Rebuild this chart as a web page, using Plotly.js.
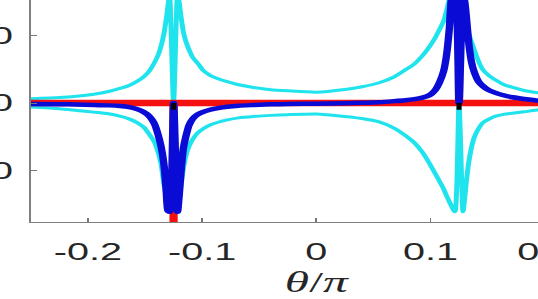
<!DOCTYPE html>
<html>
<head>
<meta charset="utf-8">
<script src="https://cdn.plot.ly/plotly-3.0.1.min.js"></script>
<style>
  html, body { margin: 0; padding: 0; background: #fff; overflow: hidden; width: 538px; height: 299px; }
  /* the reference figure is stretched sideways, so the graph is drawn narrow and widened */
  #graph { position: absolute; left: -50px; top: -40px; transform: scaleX(1.65); transform-origin: 0 0; }
</style>
</head>
<body>
<div id="graph"></div>
<script>
// theta / pi sample points, dense around the two resonances at +-0.125
let theta = [
    -0.25, -0.225, -0.21, -0.195, -0.182, -0.172, -0.164, -0.157, -0.151, -0.146, -0.142, -0.1385, -0.136, -0.1335, -0.1315, -0.13, -0.1285,
    -0.125,
    -0.1215, -0.12, -0.1185, -0.1165, -0.114, -0.1115, -0.108, -0.104, -0.099, -0.093, -0.086, -0.078, -0.068, -0.055, -0.04, -0.025, 0,
    0.025, 0.04, 0.055, 0.068, 0.078, 0.086, 0.093, 0.099, 0.104, 0.108, 0.1115, 0.114, 0.1165, 0.1185, 0.12, 0.1215,
    0.125,
    0.1285, 0.13, 0.1315, 0.1335, 0.136, 0.1385, 0.142, 0.146, 0.151, 0.157, 0.164, 0.172, 0.182, 0.195, 0.21, 0.225, 0.25];

let cyan_up = [
    0.64, 0.8, 1.0, 1.3, 1.7, 2.15, 2.6, 3.2, 3.9, 4.8, 5.9, 7.1, 8.4, 10.2, 12.3, 14.2, 16.1,
    0,
    16.1, 14.8, 12.8, 10.6, 9.0, 7.9, 6.7, 5.9, 4.8, 4.1, 3.6, 3.15, 2.7, 2.3, 1.97, 1.8, 1.6,
    2.0, 2.4, 3.0, 3.85, 4.9, 5.8, 7.0, 8.3, 9.6, 10.9, 12.1, 13.6, 15.3, 15.8, 16.0, 16.1,
    0,
    16.1, 14.0, 12.0, 10.3, 9.0, 7.8, 6.2, 4.9, 4.1, 3.4, 2.75, 2.3, 1.85, 1.5, 1.2, 1.0, 0.85];

let cyan_low = [
    -0.6, -0.85, -1.1, -1.35, -1.6, -1.95, -2.35, -2.9, -3.6, -4.7, -5.7, -7.3, -9.0, -12.0, -13.8, -15.0, -16.1,
    0,
    -16.1, -14.2, -12.2, -9.8, -7.7, -6.4, -5.3, -4.44, -3.8, -3.25, -2.85, -2.5, -2.2, -2.0, -1.83, -1.72, -1.63,
    -2.0, -2.3, -2.8, -3.7, -4.8, -5.9, -7.3, -8.9, -10.4, -11.6, -12.7, -13.7, -14.6, -15.3, -15.8, -16.1,
    0,
    -16.1, -14.0, -11.5, -8.8, -6.5, -5.0, -3.8, -2.9, -2.4, -1.95, -1.68, -1.5, -1.3, -1.0, -0.85, -0.72, -0.6];

let blue_val = [
    -0.15, -0.18, -0.22, -0.28, -0.35, -0.45, -0.6, -0.9, -1.35, -2.0, -3.0, -4.7, -6.4, -9.0, -12.8, -15.9, -16.1,
    0,
    -16.1, -13.5, -10.2, -6.8, -4.8, -3.3, -2.3, -1.7, -1.3, -1.0, -0.75, -0.55, -0.4, -0.3, -0.2, -0.15, -0.1,
    -0.05, 0.02, 0.12, 0.28, 0.42, 0.58, 0.8, 1.15, 1.9, 3.1, 4.7, 7.0, 11.0, 15.6, 16.0, 16.1,
    0,
    16.1, 15.0, 12.6, 8.9, 6.0, 4.5, 3.2, 2.5, 1.9, 1.5, 1.15, 0.85, 0.6, 0.35, 0.25, 0.18, 0.12];

// red: flat zero line plus a spike at each resonance
let red_theta = [-0.25, 0.25];
let red_val = [0, 0];
let spike_theta = [-0.125, -0.125, null, 0.125, 0.125];
let spike_val = [0, -60, null, 0, 60];

// short black marks at the resonances
let black_theta = [-0.125, -0.125, null, 0.125, 0.125];
let black_val = [0, -1.0, null, 0, -1.0];

let x_ticks = [-0.2, -0.1, 0, 0.1, 0.2];
let x_ticktext = ['-0.2', '-0.1', '0', '0.1', '0.2'];
let y_ticks = [-10, 0, 10];
let y_ticktext = ['-10', '0', '10'];

let cyan = '#1fe4ee';

let trace_cyan_up = {
    x: theta, y: cyan_up, type: 'scatter', mode: 'lines',
    line: {color: cyan, width: 3, shape: 'spline', smoothing: 0.6}
};
let trace_cyan_low = {
    x: theta, y: cyan_low, type: 'scatter', mode: 'lines',
    line: {color: cyan, width: 3, shape: 'spline', smoothing: 0.6}
};
let trace_red = {
    x: red_theta, y: red_val, type: 'scatter', mode: 'lines',
    line: {color: '#f51010', width: 6.5}
};
let trace_spike = {
    x: spike_theta, y: spike_val, type: 'scatter', mode: 'lines',
    line: {color: '#f51010', width: 5}
};
let trace_blue = {
    x: theta, y: blue_val, type: 'scatter', mode: 'lines',
    line: {color: '#0b0bd6', width: 4.5, shape: 'spline', smoothing: 0.6}
};
let trace_black = {
    x: black_theta, y: black_val, type: 'scatter', mode: 'lines',
    line: {color: '#000000', width: 3}
};

let data = [trace_cyan_up, trace_cyan_low, trace_red, trace_spike, trace_blue, trace_black];

let tick_font = {family: 'Liberation Sans, Arial, sans-serif', size: 24, color: '#262626'};

var layout = {
    width: 415,
    height: 360,
    margin: {l: 49, r: 20, t: 24, b: 98},
    showlegend: false,
    paper_bgcolor: 'rgba(0,0,0,0)',
    plot_bgcolor: 'rgba(0,0,0,0)',
    xaxis: {
        range: [-0.25, 0.25],
        tickvals: x_ticks,
        ticktext: x_ticktext,
        ticks: 'inside', ticklen: 4, tickcolor: '#777', tickwidth: 1,
        showline: true, linecolor: '#808080', linewidth: 1,
        showgrid: false, zeroline: false,
        tickfont: tick_font,
        ticklabelstandoff: 8,
        title: {
            text: '<i>θ</i>/<i>π</i>',
            font: {family: 'Liberation Serif, Times New Roman, serif', size: 30, color: '#262626'},
            standoff: 6
        }
    },
    yaxis: {
        range: [-17.6, 17.6],
        tickvals: y_ticks,
        ticktext: y_ticktext,
        ticks: 'inside', ticklen: 4, tickcolor: '#777', tickwidth: 1,
        showline: true, linecolor: '#808080', linewidth: 1,
        showgrid: false, zeroline: false,
        tickfont: tick_font,
        ticklabelstandoff: 5
    }
};

let config = {displayModeBar: false, staticPlot: true};

Plotly.newPlot('graph', data, layout, config);
</script>
</body>
</html>
